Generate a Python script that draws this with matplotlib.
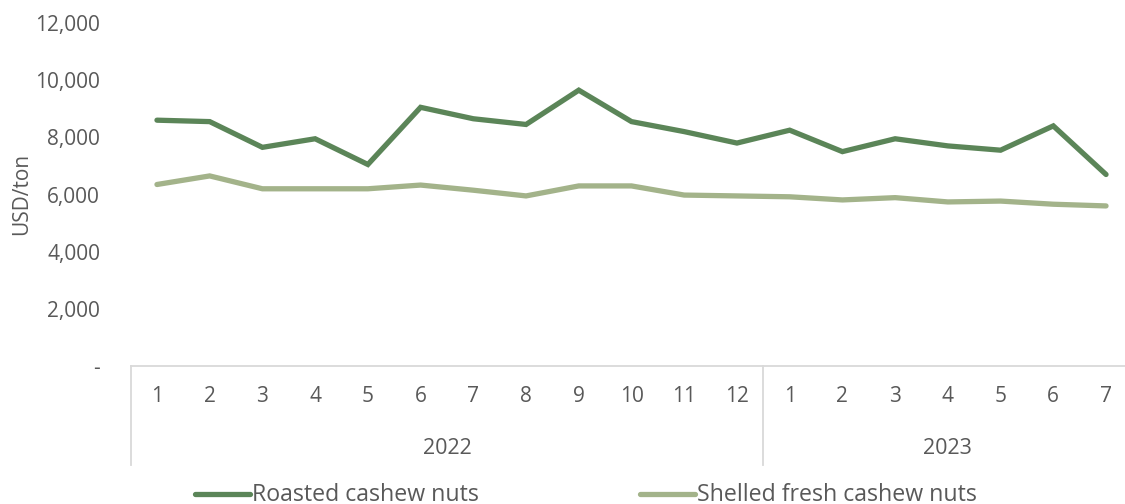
import matplotlib.pyplot as plt
import matplotlib.transforms as mtransforms
from matplotlib.lines import Line2D

# data (USD/ton)
months = ["1", "2", "3", "4", "5", "6", "7", "8", "9", "10", "11", "12",
          "1", "2", "3", "4", "5", "6", "7"]
years = ["2022", "2023"]
months_per_year = [12, 7]
roasted = [8600, 8550, 7650, 7950, 7050, 9050, 8650, 8450, 9650, 8550, 8200, 7800,
           8250, 7500, 7950, 7700, 7550, 8400, 6700]
shelled = [6350, 6650, 6200, 6200, 6200, 6330, 6150, 5950, 6300, 6300, 5980, 5950,
           5920, 5810, 5890, 5740, 5770, 5660, 5600]
yticks = [0, 2000, 4000, 6000, 8000, 10000, 12000]

plt.rcParams['font.family'] = ['Open Sans', 'DejaVu Sans']
txt = '#595959'
grid_c = '#d9d9d9'
c_roast = '#5B8558'
c_shell = '#A3B38A'

fig = plt.figure(figsize=(11.25, 5.04), dpi=100)
W, H = 1125, 504
ax = fig.add_axes([130.6 / W, 1 - 366 / H, (1132.4 - 130.6) / W, (366 - 23) / H])

x = list(range(len(months)))
ax.plot(x, roasted, color=c_roast, lw=3.8, solid_capstyle='round', solid_joinstyle='miter')
ax.plot(x, shelled, color=c_shell, lw=3.8, solid_capstyle='round', solid_joinstyle='miter')

ax.set_xlim(-0.5, len(months) - 0.5)
ax.set_ylim(0, 12000)
ax.set_yticks(yticks)
ax.set_yticklabels(['-' if v == 0 else f"{v:,}" for v in yticks])
ax.tick_params(axis='y', length=0, pad=22, labelsize=15, labelcolor=txt)
ax.set_xticks([])
for s in ['top', 'right', 'left']:
    ax.spines[s].set_visible(False)
ax.spines['bottom'].set_color(grid_c)
ax.spines['bottom'].set_linewidth(1.3)

fig.text(22 / W, 1 - 194 / H, "USD/ton", rotation=90, ha='center', va='center',
         fontsize=15, color=txt)

# multi-level category axis
trans = mtransforms.blended_transform_factory(ax.transData, fig.transFigure)
for i, m in enumerate(months):
    ax.text(i, 1 - 397 / H, m, transform=trans, ha='center', va='center',
            fontsize=15, color=txt)
start = 0
bounds = [-0.5]
for yr, n in zip(years, months_per_year):
    mid = start + (n - 1) / 2
    ax.text(mid, 1 - 449 / H, yr, transform=trans, ha='center', va='center',
            fontsize=15.5, color=txt)
    start += n
    bounds.append(start - 0.5)
for b in bounds:
    ax.add_line(Line2D([b, b], [1 - 366 / H, 1 - 465 / H], transform=trans,
                       color=grid_c, lw=1.3, clip_on=False))

# legend
legend_items = [("Roasted cashew nuts", c_roast, 195), ("Shelled fresh cashew nuts", c_shell, 640)]
for label, col, x0 in legend_items:
    fig.add_artist(Line2D([x0 / W, (x0 + 55) / W], [1 - 494 / H, 1 - 494 / H],
                          transform=fig.transFigure, color=col, lw=3.8,
                          solid_capstyle='round'))
    fig.text((x0 + 57) / W, 1 - 495 / H, label, ha='left', va='center',
             fontsize=16.7, color=txt)

fig.savefig("out.png", dpi=100)
